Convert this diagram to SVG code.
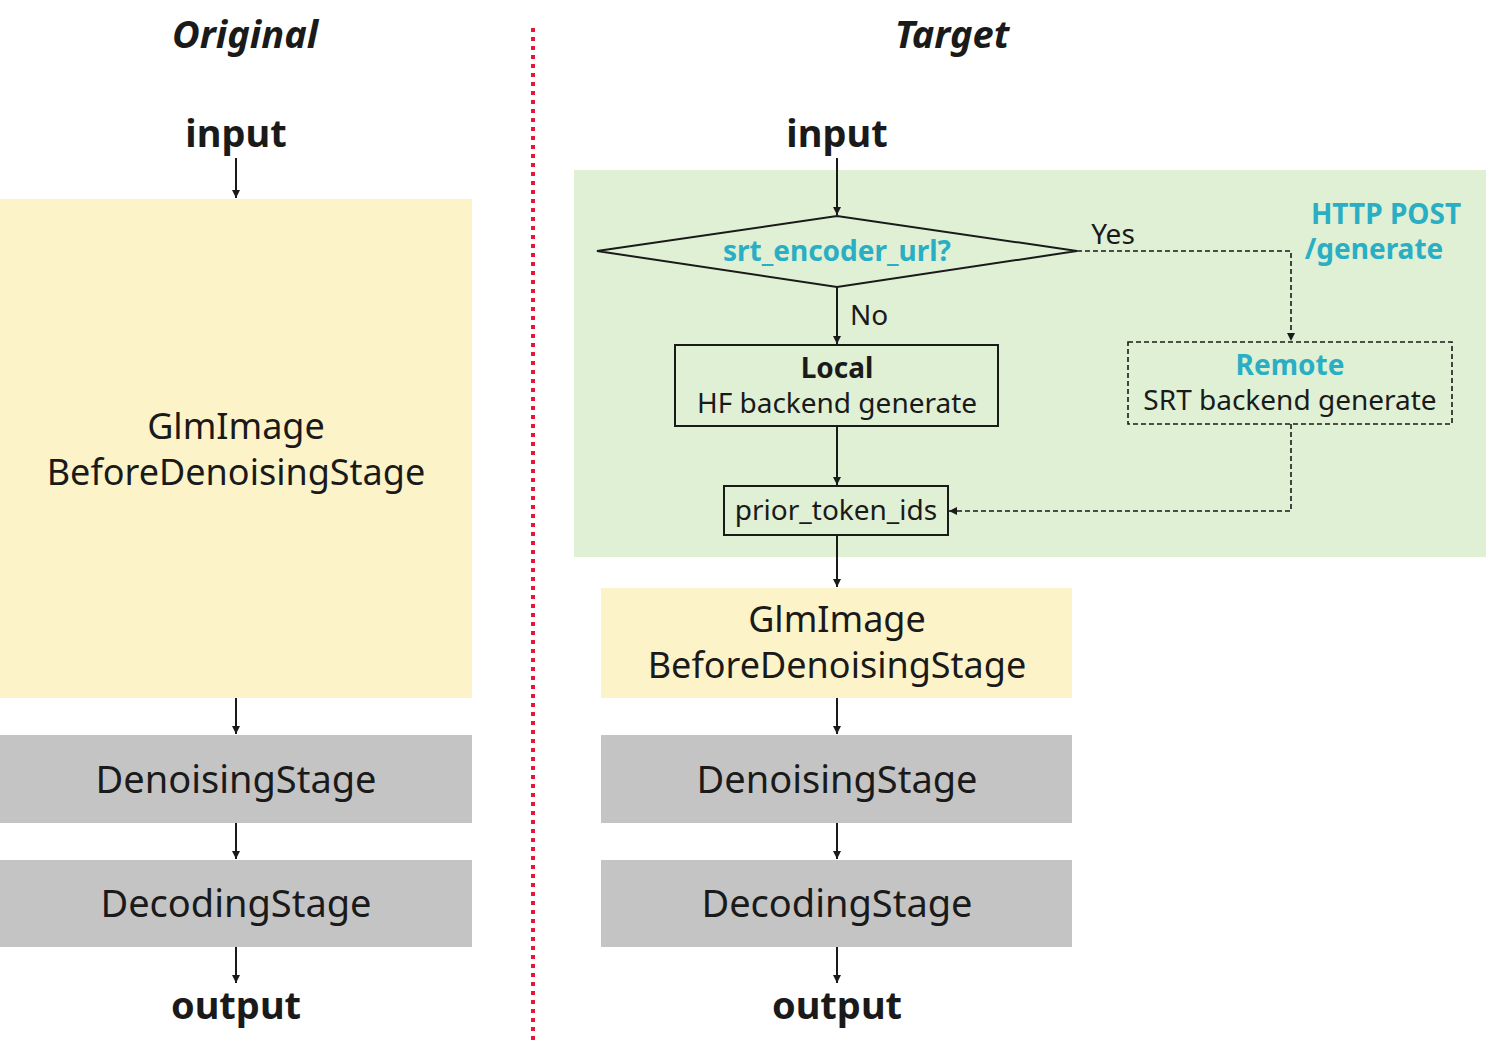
<svg xmlns="http://www.w3.org/2000/svg" width="1500" height="1053" viewBox="0 0 1500 1053">
<defs>
<marker id="ah" viewBox="0 0 10 10" refX="10" refY="5" markerWidth="8" markerHeight="8" markerUnits="userSpaceOnUse" orient="auto"><path d="M0,0L10,5L0,10z" fill="#1a1a1a"/></marker>
<style>
text{font-family:"Noto Sans","Open Sans",sans-serif;fill:#1a1a1a;text-anchor:middle}
.t{font-size:38px;font-weight:bold;font-style:italic}
.io{font-size:38px;font-weight:bold}
.big{font-size:38px}
.b2{font-size:36px}
.m{font-size:28px}
.teal{fill:#2aaec4;font-weight:bold}
.yel{fill:#fdf3c9}
.gry{fill:#c4c4c4}
.ln{stroke:#1a1a1a;stroke-width:2;fill:none}
.ds{stroke:#1a1a1a;stroke-width:1.6;fill:none;stroke-dasharray:5,3}
</style>
</defs>
<rect width="1500" height="1053" fill="#fff"/>
<line x1="533" y1="28" x2="533" y2="1040" stroke="#e8173a" stroke-width="4" stroke-dasharray="4,5"/>
<text class="t" x="245" y="48">Original</text>
<text class="t" x="952" y="48">Target</text>
<rect x="574" y="170" width="912" height="387" fill="#dff0d5"/>
<g id="left">
<text class="io" x="236" y="147">input</text>
<g id="l-before"><rect class="yel" x="0" y="199" width="472" height="499"/><text class="b2" x="236" y="439">GlmImage</text><text class="b2" x="236" y="485">BeforeDenoisingStage</text></g>
<g id="l-denoise"><rect class="gry" x="0" y="735" width="472" height="88"/><text class="big" x="236" y="793">DenoisingStage</text></g>
<g id="l-decode"><rect class="gry" x="0" y="860" width="472" height="87"/><text class="big" x="236" y="917">DecodingStage</text></g>
<text class="io" x="236" y="1019">output</text>
</g>
<g id="right">
<text class="io" x="837" y="147">input</text>
<g id="diamond"><polygon points="597,251 837,216 1077,251 837,287" fill="none" stroke="#1a1a1a" stroke-width="2"/><text class="m teal" x="837" y="261">srt_encoder_url?</text></g>
<text class="m" x="1113" y="244">Yes</text>
<text class="m" x="869" y="325">No</text>
<text class="m teal" x="1386" y="224">HTTP POST</text>
<text class="m teal" x="1374" y="259">/generate</text>
<g id="local"><rect x="675" y="345" width="323" height="81" fill="none" stroke="#1a1a1a" stroke-width="2"/><text class="m" x="837" y="378" font-weight="bold">Local</text><text class="m" x="837" y="413">HF backend generate</text></g>
<g id="remote"><rect class="ds" x="1128" y="342" width="324" height="82"/><text class="m teal" x="1290" y="375">Remote</text><text class="m" x="1290" y="410">SRT backend generate</text></g>
<g id="prior"><rect x="724" y="486" width="224" height="49" fill="none" stroke="#1a1a1a" stroke-width="2"/><text class="m" x="836" y="520">prior_token_ids</text></g>
<g id="r-before"><rect class="yel" x="601" y="588" width="471" height="110"/><text class="b2" x="837" y="632">GlmImage</text><text class="b2" x="837" y="678">BeforeDenoisingStage</text></g>
<g id="r-denoise"><rect class="gry" x="601" y="735" width="471" height="88"/><text class="big" x="837" y="793">DenoisingStage</text></g>
<g id="r-decode"><rect class="gry" x="601" y="860" width="471" height="87"/><text class="big" x="837" y="917">DecodingStage</text></g>
<text class="io" x="837" y="1019">output</text>
</g>
<g id="connectors">
<line class="ln" x1="236" y1="158" x2="236" y2="198" marker-end="url(#ah)"/>
<line class="ln" x1="236" y1="698" x2="236" y2="734" marker-end="url(#ah)"/>
<line class="ln" x1="236" y1="823" x2="236" y2="859" marker-end="url(#ah)"/>
<line class="ln" x1="236" y1="947" x2="236" y2="983" marker-end="url(#ah)"/>
<line class="ln" x1="837" y1="158" x2="837" y2="215" marker-end="url(#ah)"/>
<line class="ln" x1="837" y1="287" x2="837" y2="344" marker-end="url(#ah)"/>
<line class="ln" x1="837" y1="426" x2="837" y2="485" marker-end="url(#ah)"/>
<line class="ln" x1="837" y1="535" x2="837" y2="587" marker-end="url(#ah)"/>
<line class="ln" x1="837" y1="698" x2="837" y2="734" marker-end="url(#ah)"/>
<line class="ln" x1="837" y1="823" x2="837" y2="859" marker-end="url(#ah)"/>
<line class="ln" x1="837" y1="947" x2="837" y2="983" marker-end="url(#ah)"/>
<path class="ds" d="M1077,251H1291V341" marker-end="url(#ah)"/>
<path class="ds" d="M1291,424V511H949" marker-end="url(#ah)"/>
</g>
</svg>
